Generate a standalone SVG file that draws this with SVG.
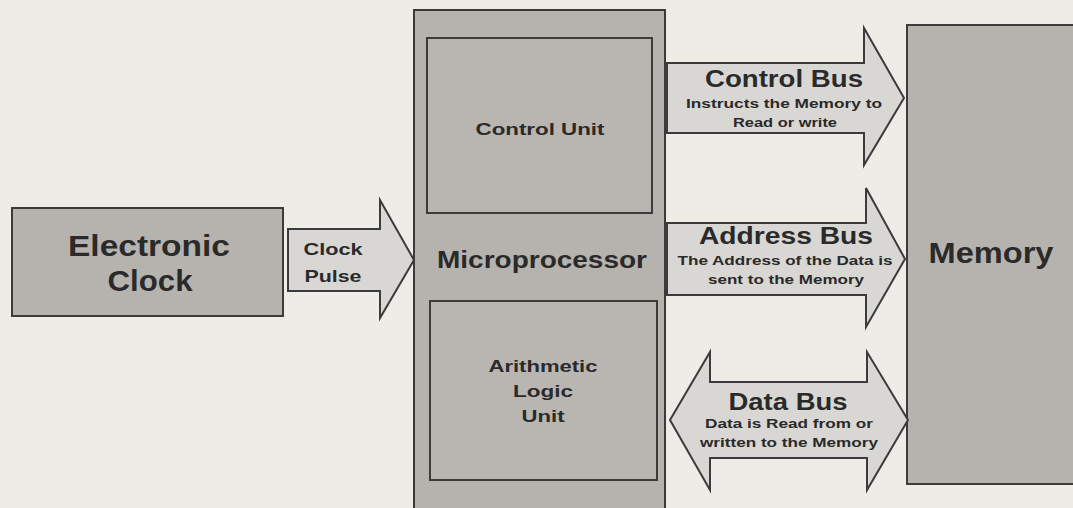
<svg xmlns="http://www.w3.org/2000/svg" width="1073" height="508" viewBox="0 0 1073 508">
<style>
.box{fill:#b6b3ae;stroke:#3b3b3b;stroke-width:2}
.inner{fill:#b9b6b1;stroke:#3b3b3b;stroke-width:2}
.arrow{fill:#d9d7d3;stroke:#3b3b3b;stroke-width:2;stroke-linejoin:miter}
text{font-family:"Liberation Sans",Arial,sans-serif;font-weight:bold;fill:#2a2a2a;text-anchor:middle}
.big{font-size:29px}
.mid{font-size:23px}
.sm{font-size:17px}
.xs{font-size:12.5px}
</style>
<rect width="1073" height="508" fill="#eeece7"/>
<g id="clock">
<rect class="box" x="12" y="208" width="271" height="108"/>
<text class="big" x="149" y="256" textLength="162" lengthAdjust="spacingAndGlyphs">Electronic</text>
<text class="big" x="150" y="291" textLength="85" lengthAdjust="spacingAndGlyphs">Clock</text>
</g>
<g id="microprocessor">
<rect class="box" x="414" y="10" width="251" height="510"/>
<text class="mid" x="542" y="268" textLength="210" lengthAdjust="spacingAndGlyphs">Microprocessor</text>
</g>
<g id="control-unit">
<rect class="inner" x="427" y="38" width="225" height="175"/>
<text class="sm" x="540" y="135" textLength="129" lengthAdjust="spacingAndGlyphs">Control Unit</text>
</g>
<g id="alu">
<rect class="inner" x="430" y="301" width="227" height="179"/>
<text class="sm" x="543" y="372" textLength="109" lengthAdjust="spacingAndGlyphs">Arithmetic</text>
<text class="sm" x="543" y="397" textLength="60" lengthAdjust="spacingAndGlyphs">Logic</text>
<text class="sm" x="543" y="422" textLength="43" lengthAdjust="spacingAndGlyphs">Unit</text>
</g>
<g id="memory">
<rect class="box" x="907" y="25" width="180" height="459"/>
<text class="big" x="991" y="263" textLength="125" lengthAdjust="spacingAndGlyphs">Memory</text>
</g>
<g id="connectors">
<g id="clock-pulse">
<path class="arrow" d="M288,229 H380 V200 L414,260 L380,318 V291 H288 Z"/>
<text class="sm" x="333" y="255" textLength="59" lengthAdjust="spacingAndGlyphs">Clock</text>
<text class="sm" x="333" y="282" textLength="57" lengthAdjust="spacingAndGlyphs">Pulse</text>
</g>
<g id="control-bus">
<path class="arrow" d="M667,63 H864 V28 L904,98 L864,165 V133 H667 Z"/>
<text class="mid" x="784" y="87" textLength="158" lengthAdjust="spacingAndGlyphs">Control Bus</text>
<text class="xs" x="784" y="108" textLength="196" lengthAdjust="spacingAndGlyphs">Instructs the Memory to</text>
<text class="xs" x="785" y="127" textLength="104" lengthAdjust="spacingAndGlyphs">Read or write</text>
</g>
<g id="address-bus">
<path class="arrow" d="M667,223 H866 V188 L905,259 L866,327 V295 H667 Z"/>
<text class="mid" x="786" y="244" textLength="174" lengthAdjust="spacingAndGlyphs">Address Bus</text>
<text class="xs" x="785" y="265" textLength="215" lengthAdjust="spacingAndGlyphs">The Address of the Data is</text>
<text class="xs" x="786" y="284" textLength="156" lengthAdjust="spacingAndGlyphs">sent to the Memory</text>
</g>
<g id="data-bus">
<path class="arrow" d="M670,420 L710,352 V382 H867 V352 L908,420 L867,490 V458 H710 V490 Z"/>
<text class="mid" x="788" y="410" textLength="119" lengthAdjust="spacingAndGlyphs">Data Bus</text>
<text class="xs" x="789" y="428" textLength="168" lengthAdjust="spacingAndGlyphs">Data is Read from or</text>
<text class="xs" x="789" y="447" textLength="178" lengthAdjust="spacingAndGlyphs">written to the Memory</text>
</g>
</g>
</svg>
